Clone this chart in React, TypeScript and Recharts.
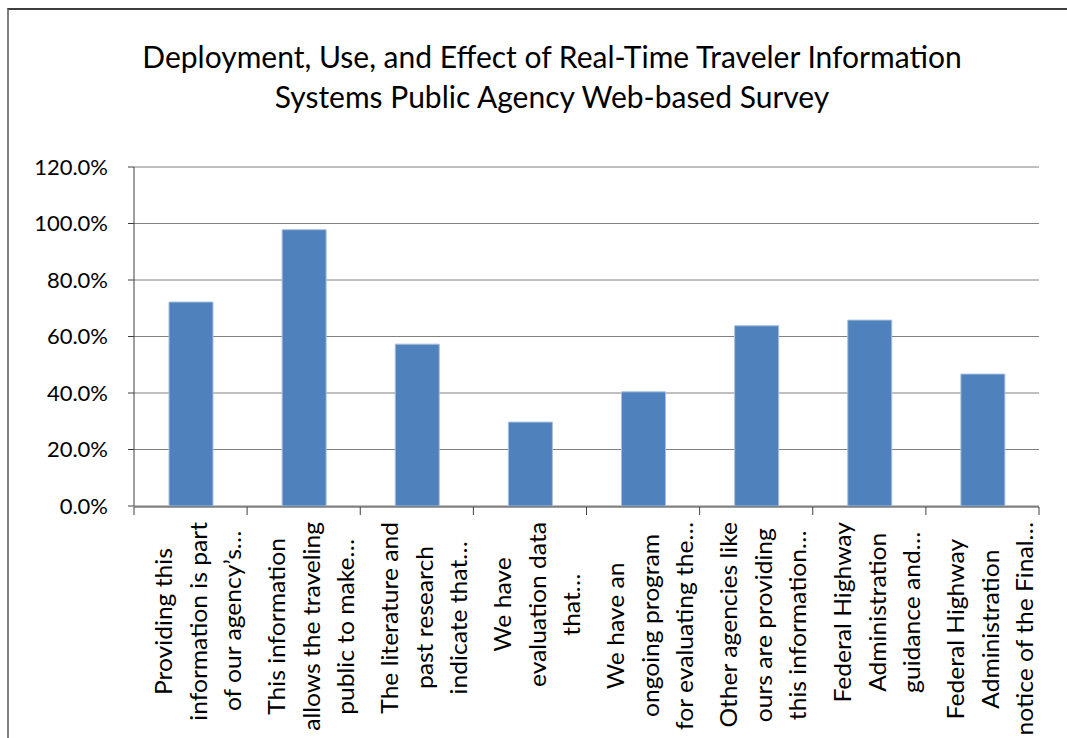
import React from "react";
import { BarChart, Bar, XAxis, YAxis, CartesianGrid } from "recharts";

const TITLE_LINES = [
  "Deployment, Use, and Effect of Real-Time Traveler Information",
  "Systems Public Agency Web-based Survey",
];

const CATEGORY_LINES = [
  ["Providing this", "information is part", "of our agency’s…"],
  ["This information", "allows the traveling", "public to make…"],
  ["The literature and", "past research", "indicate that…"],
  ["We have", "evaluation data", "that…"],
  ["We have an", "ongoing program", "for evaluating the…"],
  ["Other agencies like", "ours are providing", "this information…"],
  ["Federal Highway", "Administration", "guidance and…"],
  ["Federal Highway", "Administration", "notice of the Final…"],
];

const SHARES = [0.722, 0.978, 0.573, 0.297, 0.404, 0.638, 0.658, 0.467];

const Y_TICKS = [0, 0.2, 0.4, 0.6, 0.8, 1.0, 1.2];
const BOUNDARY_TICKS = [0, 1, 2, 3, 4, 5, 6, 7, 8];

const BLUE = "#4f81bd";
const AXIS = "#404040";
const FONT = "Lato, 'Open Sans', sans-serif";
const LABEL_SIZE = 23;
// the source picture is a little stretched along the rotated labels
const LABEL_STRETCH = 1.07;

const data = CATEGORY_LINES.map((lines, i) => ({
  name: lines.join(" "),
  pos: i + 0.5,
  share: SHARES[i],
}));

function CategoryTick({ x, y, index }: any) {
  const lines = CATEGORY_LINES[index] || [];
  return (
    <foreignObject x={x - 63} y={y} width={140} height={260} style={{ overflow: "visible" }}>
      <div style={{ paddingTop: 16 }}>
        <div
          style={{
            display: "flex",
            justifyContent: "center",
            alignItems: "flex-start",
            transform: `scaleY(${LABEL_STRETCH})`,
            transformOrigin: "top",
          }}
        >
          <div
            style={{
              writingMode: "vertical-rl",
              transform: "rotate(180deg)",
              textAlign: "center",
              whiteSpace: "nowrap",
              fontFamily: FONT,
              fontSize: LABEL_SIZE,
              lineHeight: "34.5px",
              color: "#000",
            }}
          >
            {lines.map((line, i) => (
              <div key={i}>{line}</div>
            ))}
          </div>
        </div>
      </div>
    </foreignObject>
  );
}

export default function App() {
  return (
    <div style={{ position: "fixed", inset: 0, overflow: "hidden", background: "#fff" }}>
      <div
        style={{
          position: "absolute",
          left: 7,
          top: 8,
          width: 1100,
          height: 760,
          borderLeft: "2px solid #7f7f7f",
          borderTop: "2px solid #3f3f3f",
        }}
      />
      <div
        style={{
          position: "absolute",
          left: 7,
          top: 36,
          width: 1090,
          textAlign: "center",
          fontFamily: FONT,
          fontSize: 30,
          lineHeight: "40px",
          color: "#000",
        }}
      >
        {TITLE_LINES.map((t) => (
          <div key={t}>{t}</div>
        ))}
      </div>
      <div style={{ position: "absolute", left: 0, top: 0 }}>
        <BarChart
          width={1067}
          height={738}
          data={data}
          margin={{ top: 167, right: 28, bottom: 230, left: 0 }}
          barSize={44}
        >
          <CartesianGrid vertical={false} stroke="#808080" strokeWidth={1} />
          <XAxis
            dataKey="pos"
            xAxisId="edge"
            type="number"
            domain={[0, 8]}
            ticks={BOUNDARY_TICKS}
            height={1}
            axisLine={{ stroke: AXIS }}
            tickSize={8}
            tickLine={{ stroke: AXIS }}
            tickFormatter={() => ""}
          />
          <XAxis
            dataKey="name"
            height={1}
            tickLine={false}
            tickSize={0}
            tickMargin={0}
            interval={0}
            axisLine={false}
            tick={<CategoryTick />}
          />
          <YAxis
            width={134}
            domain={[0, 1.2]}
            ticks={Y_TICKS}
            tickSize={6}
            tickMargin={20}
            axisLine={{ stroke: AXIS }}
            tickLine={{ stroke: AXIS }}
            tick={{ fill: "#000", fontSize: 22, fontFamily: FONT }}
            tickFormatter={(v: number) => `${(v * 100).toFixed(1)}%`}
          />
          <Bar
            dataKey="share"
            fill={BLUE}
            stroke="#a7bfde"
            strokeWidth={1}
            isAnimationActive={false}
          />
        </BarChart>
      </div>
    </div>
  );
}
